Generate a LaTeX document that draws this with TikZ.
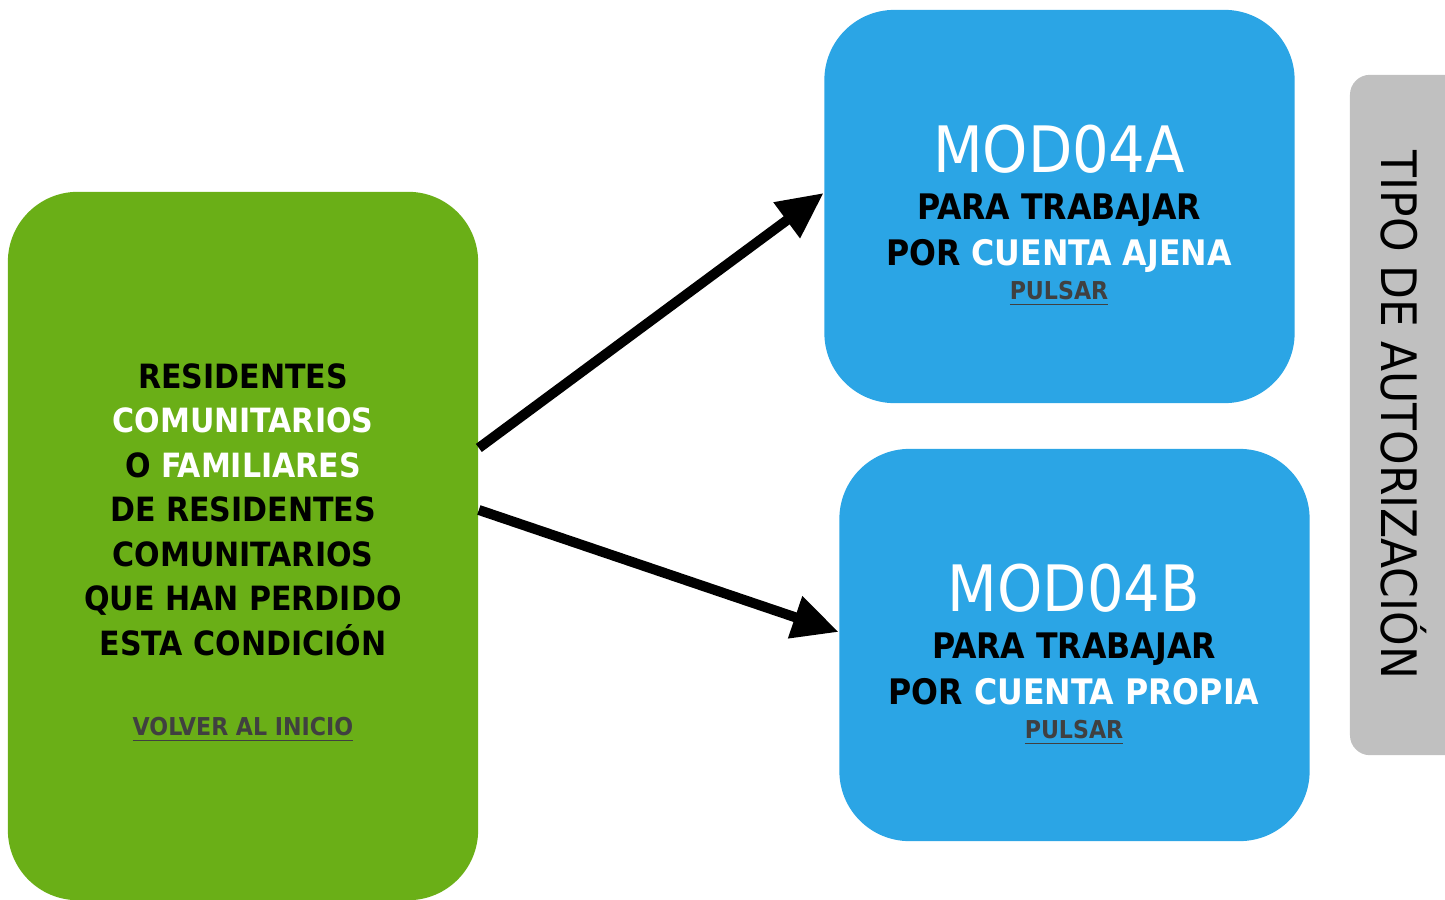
\documentclass[tikz,border=0pt]{standalone}
\usepackage{fontspec}
\setmainfont{DejaVu Sans Condensed}
\usetikzlibrary{arrows.meta,positioning}
\definecolor{verde}{HTML}{6AAF17}
\definecolor{azul}{HTML}{2BA5E5}
\definecolor{gris}{HTML}{C0C0C0}
\definecolor{enlace}{HTML}{404040}
\newcommand{\enlace}[1]{\textcolor{enlace}{\underline{#1}}}

\begin{document}
\begin{tikzpicture}[x=0.01cm, y=-0.01cm,
    caja/.style={rounded corners=0.7cm, minimum width=4.7cm, inner sep=0pt},
    flecha/.style={line width=0.1cm, -{Triangle[length=4.6mm, width=4.2mm]}},
    cuerpo/.style={align=center, anchor=base, font=\bfseries\fontsize{9.5}{12.65}\selectfont},
    cuerpoazul/.style={cuerpo, font=\bfseries\fontsize{10}{12.8}\selectfont},
    modelo/.style={anchor=base, text=white, font=\fontsize{18.2}{20}\selectfont},
    pulsar/.style={anchor=base, font=\bfseries\fontsize{7}{8}\selectfont}]
    \useasboundingbox (0,0) rectangle (1445,900);
    % cajas
    \node[caja, fill=verde, minimum height=7.08cm] (resid) at (243,546) {};
    \node[caja, fill=azul, minimum height=3.93cm] (modA) at (1059.5,206.5) {};
    \node[caja, fill=azul, minimum height=3.92cm] (modB) at (1074.5,645) {};
    \node[rounded corners=0.2cm, fill=gris, minimum width=1.3cm,
          minimum height=6.8cm, inner sep=0pt] (tipo) at (1415,415) {};
    % textos
    \node[cuerpo] (residtxt) at (243,655) {RESIDENTES\\
        \textcolor{white}{COMUNITARIOS}\\
        O \textcolor{white}{FAMILIARES}\\
        DE RESIDENTES\\
        COMUNITARIOS\\
        QUE HAN PERDIDO\\
        ESTA CONDICIÓN};
    \node[pulsar] (volver) at (243,735) {\enlace{VOLVER AL INICIO}};
    \node[modelo] (modAtit) at (1059,172) {MOD04A};
    \node[cuerpoazul] (modAtxt) at (1059,265) {PARA TRABAJAR\\
        POR \textcolor{white}{CUENTA AJENA}};
    \node[pulsar] (modAlink) at (1059,299) {\enlace{PULSAR}};
    \node[modelo] (modBtit) at (1074,611) {MOD04B};
    \node[cuerpoazul] (modBtxt) at (1074,704) {PARA TRABAJAR\\
        POR \textcolor{white}{CUENTA PROPIA}};
    \node[pulsar] (modBlink) at (1074,738) {\enlace{PULSAR}};
    \node[rotate=-90, font=\fontsize{13.9}{15}\selectfont] (tipotxt) at (1404,415)
        {TIPO DE AUTORIZACIÓN};
    % flechas
    \draw[flecha] ([yshift=0.98cm]resid.east) -- ([yshift=0.135cm]modA.west);
    \draw[flecha] ([yshift=0.36cm]resid.east) -- ([yshift=0.13cm]modB.west);
\end{tikzpicture}
\end{document}
